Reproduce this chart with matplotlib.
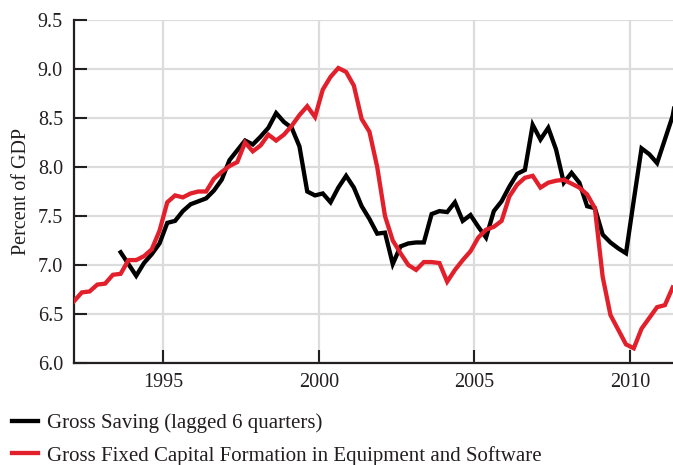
import matplotlib
matplotlib.use("Agg")
import matplotlib.pyplot as plt
from matplotlib.lines import Line2D
import numpy as np

# Quarterly data, decimal-year mid-quarter positions
red_start = "1992Q1"
black_start = "1993Q3"

capital_formation = [
    6.63, 6.72, 6.73, 6.80, 6.81, 6.90, 6.91, 7.05, 7.05, 7.09,
    7.16, 7.35, 7.64, 7.71, 7.69, 7.73, 7.75, 7.75, 7.88, 7.95,
    8.01, 8.05, 8.25, 8.16, 8.22, 8.33, 8.27, 8.33, 8.42, 8.53,
    8.62, 8.51, 8.79, 8.92, 9.01, 8.97, 8.83, 8.49, 8.36, 8.00,
    7.50, 7.25, 7.12, 7.00, 6.95, 7.03, 7.03, 7.02, 6.83, 6.95,
    7.05, 7.14, 7.28, 7.36, 7.39, 7.45, 7.70, 7.82, 7.89, 7.91,
    7.79, 7.84, 7.86, 7.87, 7.83, 7.79, 7.72, 7.58, 6.88, 6.49,
    6.34, 6.19, 6.15, 6.35, 6.46, 6.57, 6.59, 6.77,
]

gross_saving = [
    7.13, 7.01, 6.89, 7.02, 7.11, 7.22, 7.43, 7.45, 7.55, 7.62,
    7.65, 7.68, 7.76, 7.87, 8.07, 8.17, 8.27, 8.23, 8.31, 8.40,
    8.55, 8.46, 8.40, 8.21, 7.75, 7.71, 7.73, 7.64, 7.79, 7.91,
    7.79, 7.60, 7.47, 7.32, 7.33, 7.01, 7.19, 7.22, 7.23, 7.23,
    7.52, 7.55, 7.54, 7.64, 7.45, 7.51, 7.39, 7.28, 7.55, 7.65,
    7.80, 7.93, 7.97, 8.43, 8.28, 8.40, 8.18, 7.84, 7.94, 7.84,
    7.60, 7.58, 7.31, 7.23, 7.17, 7.12, 7.66, 8.19, 8.13, 8.04,
    8.28, 8.52, 8.95,
]

x_ticks = [1995, 2000, 2005, 2010]
y_ticks = [6.0, 6.5, 7.0, 7.5, 8.0, 8.5, 9.0, 9.5]
y_label = "Percent of GDP"
label_black = "Gross Saving (lagged 6 quarters)"
label_red = "Gross Fixed Capital Formation in Equipment and Software"


def quarter_positions(start, n):
    y, q = int(start[:4]), int(start[-1])
    first = y + (q - 1) * 0.25 + 0.125
    return first + 0.25 * np.arange(n)


x_red = quarter_positions(red_start, len(capital_formation))
x_black = quarter_positions(black_start, len(gross_saving))

RED = "#e2202b"
DARK = "#231f20"
GRID = "#dcdcdc"

plt.rcParams["font.family"] = ["Liberation Serif", "DejaVu Serif"]

fig = plt.figure(figsize=(6.73, 4.65), dpi=100)
ax = fig.add_axes([74 / 673, 1 - 363 / 465, 1 - 74 / 673 + 0.002, (363 - 20) / 465])

ax.plot(x_black, gross_saving, color="black", lw=3.1, solid_joinstyle="miter",
        zorder=3, clip_on=True)
ax.plot(x_red, capital_formation, color=RED, lw=3.1, solid_joinstyle="miter",
        zorder=4, clip_on=True)

ax.set_xlim(1992.125, 2011.43)
ax.set_ylim(6.0, 9.5)
ax.set_xticks(x_ticks)
ax.set_xticklabels([str(t) for t in x_ticks])
ax.set_yticks(y_ticks)
ax.set_yticklabels([f"{t:.1f}" for t in y_ticks])

ax.grid(True, color=GRID, lw=1.6, zorder=0)
ax.set_axisbelow(True)

for s in ["top", "right"]:
    ax.spines[s].set_visible(False)
for s in ["left", "bottom"]:
    ax.spines[s].set_color(DARK)
    ax.spines[s].set_linewidth(1.6)

ax.tick_params(axis="both", direction="in", length=9.5, width=1.5,
               color=DARK, labelsize=14.5, labelcolor=DARK)
ax.tick_params(axis="x", pad=7)
ax.tick_params(axis="y", pad=8)

ax.set_ylabel(y_label, fontsize=14.5, color=DARK, labelpad=5)

handles = [Line2D([], [], color="black", lw=3.1),
           Line2D([], [], color=RED, lw=3.1)]
fig.legend(handles, [label_black, label_red], loc="upper left",
           bbox_to_anchor=(-0.001, 1 - 401 / 465), frameon=False,
           fontsize=15, handlelength=1.25, handletextpad=0.45,
           labelspacing=0.6, borderaxespad=0.3, borderpad=0.3,
           labelcolor=DARK)

fig.savefig("out.png", dpi=100)
